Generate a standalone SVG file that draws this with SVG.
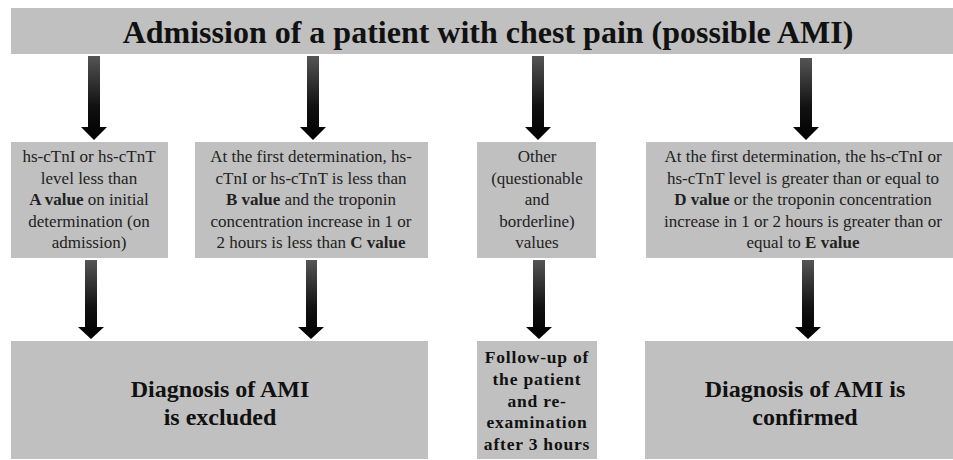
<svg xmlns="http://www.w3.org/2000/svg" width="953" height="460" viewBox="0 0 953 460" font-family="Liberation Serif, Tinos, DejaVu Serif, serif">
<defs>
<linearGradient id="ag" x1="0" y1="0" x2="0" y2="1">
<stop offset="0" stop-color="#555"/>
<stop offset="0.6" stop-color="#111"/>
<stop offset="1" stop-color="#000"/>
</linearGradient>
<style>
.box{fill:#c0c0c0;}
.t{font-size:17px;fill:#222;text-anchor:middle;}
.tb{font-weight:bold;fill:#111;text-anchor:middle;}
.fu{font-size:17.5px;letter-spacing:0.8px;}
.arr{fill:url(#ag);}
</style>
</defs>
<rect width="953" height="460" fill="#fff"/>
<g id="title">
<rect class="box" x="11" y="8" width="942" height="46" fill="#bdbdbd"/>
<text class="tb" x="488" y="43" font-size="32">Admission of a patient with chest pain (possible AMI)</text>
</g>
<g id="connectors">
<polygon class="arr" points="88,56 100,56 100,127 107,127 94,140 81,127 88,127"/>
<polygon class="arr" points="307,56 319,56 319,127 326,127 313,140 300,127 307,127"/>
<polygon class="arr" points="532,56 544,56 544,127 551,127 538,140 525,127 532,127"/>
<polygon class="arr" points="800,58 812,58 812,127 819,127 806,140 793,127 800,127"/>
<polygon class="arr" points="85,260 97,260 97,327 104,327 91,339 78,327 85,327"/>
<polygon class="arr" points="306,260 317,260 317,327 324,327 311,339 298,327 306,327"/>
<polygon class="arr" points="533,260 545,260 545,327 552,327 539,339 526,327 533,327"/>
<polygon class="arr" points="802,260 814,260 814,327 821,327 808,339 795,327 802,327"/>
</g>
<g id="box1">
<rect class="box" x="11" y="142" width="157" height="116"/>
<text class="t" x="89" y="162">hs-cTnI or hs-cTnT</text>
<text class="t" x="89" y="184">level less than</text>
<text class="t" x="89" y="205"><tspan font-weight="bold">A value</tspan> on initial</text>
<text class="t" x="89" y="227">determination (on</text>
<text class="t" x="89" y="248">admission)</text>
</g>
<g id="box2">
<rect class="box" x="195" y="142" width="233" height="116"/>
<text class="t" x="311" y="162">At the first determination, hs-</text>
<text class="t" x="311" y="184">cTnI or hs-cTnT is less than</text>
<text class="t" x="311" y="205"><tspan font-weight="bold">B value</tspan> and the troponin</text>
<text class="t" x="311" y="227">concentration increase in 1 or</text>
<text class="t" x="311" y="248">2 hours is less than <tspan font-weight="bold">C value</tspan></text>
</g>
<g id="box3">
<rect class="box" x="477" y="142" width="119" height="116"/>
<text class="t" x="537" y="162">Other</text>
<text class="t" x="537" y="184">(questionable</text>
<text class="t" x="537" y="205">and</text>
<text class="t" x="537" y="227">borderline)</text>
<text class="t" x="537" y="248">values</text>
</g>
<g id="box4">
<rect class="box" x="646" y="142" width="307" height="116"/>
<text class="t" x="803" y="162">At the first determination, the hs-cTnI or</text>
<text class="t" x="803" y="184">hs-cTnT level is greater than or equal to</text>
<text class="t" x="803" y="205"><tspan font-weight="bold">D value</tspan> or the troponin concentration</text>
<text class="t" x="803" y="227">increase in 1 or 2 hours is greater than or</text>
<text class="t" x="803" y="248">equal to <tspan font-weight="bold">E value</tspan></text>
</g>
<g id="excluded">
<rect class="box" x="11" y="341" width="417" height="118"/>
<text class="tb" x="220" y="397" font-size="24">Diagnosis of AMI</text>
<text class="tb" x="220" y="425" font-size="24">is excluded</text>
</g>
<g id="followup">
<rect class="box" x="477" y="341" width="120" height="118"/>
<text class="tb fu" x="537" y="363">Follow-up of</text>
<text class="tb fu" x="537" y="385">the patient</text>
<text class="tb fu" x="537" y="407">and re-</text>
<text class="tb fu" x="537" y="428">examination</text>
<text class="tb fu" x="537" y="450">after 3 hours</text>
</g>
<g id="confirmed">
<rect class="box" x="645" y="341" width="308" height="118"/>
<text class="tb" x="805" y="397" font-size="24">Diagnosis of AMI is</text>
<text class="tb" x="805" y="425" font-size="24">confirmed</text>
</g>
</svg>
